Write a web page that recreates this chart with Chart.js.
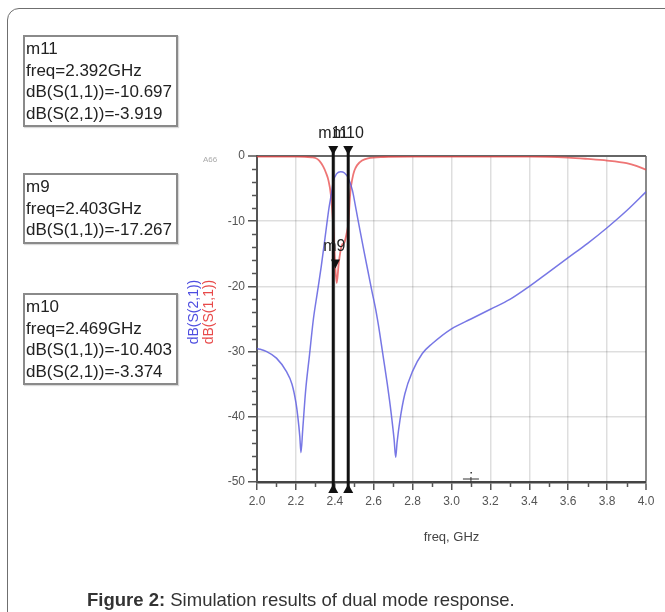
<!DOCTYPE html>
<html>
<head>
<meta charset="utf-8">
<script src="https://cdn.jsdelivr.net/npm/chart.js@4.4.1/dist/chart.umd.min.js"></script>
<style>
html,body{margin:0;padding:0;background:#fff;}
#wrap{position:relative;width:665px;height:612px;overflow:hidden;font-family:"Liberation Sans",Arial,sans-serif;}
#frame{position:absolute;left:7px;top:8px;width:720px;height:700px;border:1.5px solid #6f6f6f;border-radius:12px;box-sizing:border-box;}
canvas{position:absolute;left:0;top:0;}
.mbox{position:absolute;left:23px;width:155px;border:2px solid #8a8a8a;box-sizing:border-box;font-size:17px;line-height:21.5px;color:#222;padding:1px 0 0 1px;white-space:nowrap;box-shadow:1px 1px 1px rgba(0,0,0,0.15);background:#fff;}
#caption{position:absolute;left:87px;top:589px;font-size:18.5px;color:#333;white-space:nowrap;}
</style>
</head>
<body>
<div id="wrap">
  <div id="frame"></div>
  <canvas id="c" width="665" height="612"></canvas>
  <div id="boxes"></div>
  <div id="caption"><b>Figure 2:</b> Simulation results of dual mode response.</div>
</div>
<script>
// ---- data ----
const freqS21 = [2.00,2.05,2.10,2.15,2.18,2.20,2.21,2.22,2.226,2.235,2.25,2.27,2.29,2.31,2.33,2.35,2.37,2.383,2.392,2.41,2.43,2.45,2.469,2.49,2.51,2.53,2.55,2.57,2.59,2.61,2.63,2.65,2.67,2.69,2.705,2.713,2.72,2.735,2.76,2.80,2.85,2.90,3.00,3.10,3.20,3.30,3.40,3.50,3.60,3.70,3.80,3.90,4.00];
const s21     = [-29.5,-30.0,-31.0,-33.0,-35.0,-37.8,-40.0,-43.0,-45.5,-42.0,-36.0,-30.5,-25.0,-21.0,-17.0,-12.5,-8.0,-5.7,-3.919,-2.7,-2.4,-2.6,-3.374,-5.2,-8.3,-11.5,-14.6,-17.6,-20.6,-23.5,-27.0,-31.0,-35.0,-39.5,-43.5,-46.2,-44.0,-40.5,-36.5,-33.0,-30.3,-28.8,-26.5,-25.0,-23.5,-22.0,-20.0,-17.8,-15.6,-13.4,-11.0,-8.4,-5.5];

const freqS11 = [2.00,2.20,2.28,2.30,2.32,2.34,2.355,2.367,2.38,2.392,2.403,2.41,2.42,2.435,2.45,2.46,2.469,2.48,2.49,2.50,2.515,2.54,2.57,2.65,2.80,3.40,3.60,3.70,3.80,3.90,3.95,4.00];
const s11     = [-0.1,-0.1,-0.2,-0.3,-0.7,-1.6,-2.6,-3.7,-6.0,-10.697,-17.267,-19.5,-16.5,-13.8,-13.2,-12.0,-10.403,-5.5,-3.5,-2.3,-1.4,-0.7,-0.35,-0.15,-0.1,-0.1,-0.25,-0.45,-0.7,-1.1,-1.5,-2.1];

const markerNames = ['m11','m9','m10'];
const markerFreqs = [2.392, 2.403, 2.469];
const markerS11   = [-10.697, -17.267, -10.403];
const markerS21   = [-3.919, null, -3.374];

const xMin = 2.0, xMax = 4.0, xStep = 0.2;
const yMin = -50, yMax = 0, yStep = 10;

// ---- marker text boxes ----
const boxTops = [35, 173, 293];
const boxesEl = document.getElementById('boxes');
markerNames.forEach((n,i)=>{
  const lines = [n, 'freq=' + markerFreqs[i].toFixed(3) + 'GHz', 'dB(S(1,1))=' + markerS11[i].toFixed(3)];
  if (markerS21[i] !== null) lines.push('dB(S(2,1))=' + markerS21[i].toFixed(3));
  const d = document.createElement('div');
  d.className = 'mbox';
  d.style.top = boxTops[i] + 'px';
  d.style.height = (lines.length * 21.5 + 6) + 'px';
  d.innerHTML = lines.map(t=>'<div>'+t+'</div>').join('');
  boxesEl.appendChild(d);
});

// ---- overlay plugin ----
const overlay = {
  id: 'overlay',
  afterDraw(chart) {
    const {ctx, chartArea: a, scales: {x, y}} = chart;
    ctx.save();
    // minor ticks
    ctx.strokeStyle = '#555'; ctx.lineWidth = 1.5;
    for (let v = yMin + 2; v < yMax; v += 2) {
      if (v % yStep === 0) continue;
      const py = Math.round(y.getPixelForValue(v)) + 0.5;
      ctx.beginPath(); ctx.moveTo(a.left - 5, py); ctx.lineTo(a.left, py); ctx.stroke();
    }
    for (let k = 1; k < 20; k += 2) {
      const px = Math.round(x.getPixelForValue(xMin + k * 0.1)) + 0.5;
      ctx.beginPath(); ctx.moveTo(px, a.bottom); ctx.lineTo(px, a.bottom + 5); ctx.stroke();
    }
    // small cursor mark near 3.1 on the axis
    {
      const px = x.getPixelForValue(3.1), py = a.bottom - 3;
      ctx.strokeStyle = '#333'; ctx.lineWidth = 1;
      ctx.beginPath(); ctx.moveTo(px - 8, py); ctx.lineTo(px + 8, py); ctx.stroke();
      ctx.beginPath(); ctx.moveTo(px, py - 2); ctx.lineTo(px, py + 4); ctx.stroke();
      ctx.fillStyle = '#333';
      ctx.fillRect(px - 0.5, py - 7, 1.5, 1.5);
    }
    // marker lines (m11, m10)
    ctx.fillStyle = '#111'; ctx.strokeStyle = '#111';
    [0, 2].forEach(i => {
      const px = x.getPixelForValue(markerFreqs[i]);
      ctx.lineWidth = 3;
      ctx.beginPath(); ctx.moveTo(px, a.top - 6); ctx.lineTo(px, a.bottom + 6); ctx.stroke();
      ctx.beginPath(); ctx.moveTo(px - 5, a.top - 10); ctx.lineTo(px + 5, a.top - 10); ctx.lineTo(px, a.top - 1); ctx.closePath(); ctx.fill();
      ctx.beginPath(); ctx.moveTo(px - 5, a.bottom + 11); ctx.lineTo(px + 5, a.bottom + 11); ctx.lineTo(px, a.bottom + 2); ctx.closePath(); ctx.fill();
      ctx.font = '16px "Liberation Sans", Arial, sans-serif';
      ctx.textAlign = 'center'; ctx.textBaseline = 'middle';
      ctx.fillStyle = '#222';
      ctx.fillText(markerNames[i], px, a.top - 22);
      ctx.fillStyle = '#111';
    });
    // m9 marker on S11
    {
      const px = x.getPixelForValue(markerFreqs[1]);
      const py = y.getPixelForValue(markerS11[1]);
      ctx.fillStyle = '#111';
      ctx.beginPath(); ctx.moveTo(px - 4.5, py - 9); ctx.lineTo(px + 4.5, py - 9); ctx.lineTo(px, py); ctx.closePath(); ctx.fill();
      ctx.font = '16px "Liberation Sans", Arial, sans-serif';
      ctx.textAlign = 'center'; ctx.textBaseline = 'middle';
      ctx.fillStyle = '#222';
      ctx.fillText(markerNames[1], px - 1, py - 22);
    }
    // y-axis titles (two colours)
    ctx.font = '14px "Liberation Sans", Arial, sans-serif';
    ctx.textAlign = 'center'; ctx.textBaseline = 'middle';
    ctx.save(); ctx.translate(194, 312); ctx.rotate(-Math.PI / 2);
    ctx.fillStyle = '#4d4de0'; ctx.fillText('dB(S(2,1))', 0, 0); ctx.restore();
    ctx.save(); ctx.translate(209, 312); ctx.rotate(-Math.PI / 2);
    ctx.fillStyle = '#e84a4a'; ctx.fillText('dB(S(1,1))', 0, 0); ctx.restore();
    // small label
    ctx.font = '8px "Liberation Sans", Arial, sans-serif';
    ctx.fillStyle = '#aaa';
    ctx.fillText('A66', 210, 160);
    ctx.restore();
  }
};

const toPts = (xs, ys) => xs.map((f, i) => ({x: f, y: ys[i]}));

new Chart(document.getElementById('c'), {
  type: 'line',
  data: {
    datasets: [
      {label: 'dB(S(2,1))', data: toPts(freqS21, s21), borderColor: 'rgba(95,95,225,0.85)', borderWidth: 1.5, pointRadius: 0, cubicInterpolationMode: 'monotone', fill: false},
      {label: 'dB(S(1,1))', data: toPts(freqS11, s11), borderColor: 'rgba(232,64,64,0.72)', borderWidth: 1.8, pointRadius: 0, cubicInterpolationMode: 'monotone', fill: false}
    ]
  },
  options: {
    responsive: false,
    animation: false,
    devicePixelRatio: 1,
    layout: {padding: {left: 0, right: 19, top: 156, bottom: 0}},
    plugins: {legend: {display: false}, tooltip: {enabled: false}},
    scales: {
      x: {
        type: 'linear', min: xMin, max: xMax,
        afterFit(s) { s.height = 130; },
        ticks: {stepSize: xStep, color: '#555', font: {size: 12, family: '"Liberation Sans", Arial, sans-serif'}, padding: 4, maxRotation: 0, autoSkip: false,
          callback: v => Number(v).toFixed(1)},
        grid: {
          color: c => (Math.abs(c.tick.value - xMin) < 1e-6 ? 'rgba(0,0,0,0)' : (Math.abs(c.tick.value - xMax) < 1e-6 ? '#8a8a8a' : 'rgba(0,0,0,0.13)')),
          lineWidth: c => (Math.abs(c.tick.value - xMax) < 1e-6 ? 2 : 1.5),
          drawTicks: true, tickLength: 8, tickColor: '#555', tickWidth: 1.5
        },
        border: {display: true, color: '#444', width: 2.5},
        title: {display: true, text: 'freq, GHz', color: '#444', font: {size: 13, family: '"Liberation Sans", Arial, sans-serif'}, padding: {top: 0, bottom: 67}}
      },
      y: {
        type: 'linear', min: yMin, max: yMax,
        afterFit(s) { s.width = 257; },
        ticks: {stepSize: yStep, color: '#555', font: {size: 12, family: '"Liberation Sans", Arial, sans-serif'}, padding: 3},
        grid: {
          color: c => (c.tick.value === yMax ? '#666' : (c.tick.value === yMin ? 'rgba(0,0,0,0)' : 'rgba(0,0,0,0.13)')),
          lineWidth: c => (c.tick.value === yMax ? 2 : 1.5),
          drawTicks: true, tickLength: 9, tickColor: '#555', tickWidth: 1.5
        },
        border: {display: true, color: '#555', width: 2}
      }
    }
  },
  plugins: [overlay]
});
</script>
</body>
</html>
